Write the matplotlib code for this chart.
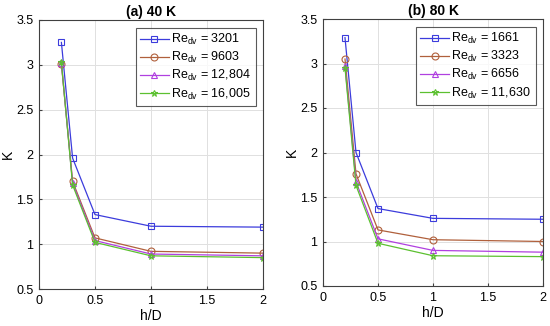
import matplotlib.pyplot as plt

# data
h_d = [0.2, 0.3, 0.5, 1.0, 2.0]

k40_labels = ['3201', '9603', '12,804', '16,005']
k40_vals = [
    [3.25, 1.96, 1.33, 1.20, 1.19],
    [3.01, 1.70, 1.07, 0.92, 0.90],
    [3.02, 1.68, 1.04, 0.89, 0.87],
    [3.03, 1.66, 1.02, 0.87, 0.85],
]

k80_labels = ['1661', '3323', '6656', '11,630']
k80_vals = [
    [3.29, 2.00, 1.37, 1.26, 1.25],
    [3.05, 1.76, 1.13, 1.02, 1.00],
    [2.97, 1.67, 1.03, 0.90, 0.88],
    [2.95, 1.63, 0.98, 0.84, 0.83],
]

colors = ['#3c3cdc', '#b0603c', '#b040e0', '#5cc030']
markers = ['s', 'o', '^', '*']

plt.rcParams['font.family'] = ['Liberation Sans', 'DejaVu Sans']

fig = plt.figure(figsize=(5.5, 3.26), dpi=100)
ax1 = fig.add_axes([39 / 550, 1 - 289 / 326, 224 / 550, 269 / 326])
ax2 = fig.add_axes([323 / 550, 1 - 286 / 326, 220 / 550, 267 / 326])


def draw(ax, vals, labels, title):
    for v, lab, c, m in zip(vals, labels, colors, markers):
        ms = 5 if m != '*' else 4.5
        ax.plot(h_d, v, color=c, marker=m, markersize=ms, markerfacecolor='none',
                markeredgecolor=c, linewidth=0.9, markeredgewidth=0.8,
                label='Re$_{\\mathregular{dv}}$ = ' + lab)
    ax.set_xlim(0, 2)
    ax.set_ylim(0.5, 3.5)
    ax.set_xticks([0, 0.5, 1, 1.5, 2])
    ax.set_xticklabels(['0', '0.5', '1', '1.5', '2'])
    ax.set_yticks([0.5, 1, 1.5, 2, 2.5, 3, 3.5])
    ax.set_yticklabels(['0.5', '1', '1.5', '2', '2.5', '3', '3.5'])
    ax.grid(True, color='#e0e0e0', linewidth=0.7)
    ax.set_axisbelow(True)
    ax.tick_params(labelsize=9, length=2, direction='in', color='#404040', pad=4)
    for s in ax.spines.values():
        s.set_color('#404040')
        s.set_linewidth(0.8)
    ax.set_xlabel('h/D', fontsize=10, labelpad=2)
    ax.set_ylabel('K', fontsize=10, labelpad=1)
    ax.set_title(title, fontsize=10, fontweight='bold', pad=3)
    leg = ax.legend(loc='upper right', fontsize=9, fancybox=False, edgecolor='#303030',
                    handlelength=2.3, borderpad=0.35, labelspacing=0.25, handletextpad=0.2,
                    borderaxespad=0.6)
    leg.get_frame().set_linewidth(0.8)


draw(ax1, k40_vals, k40_labels, '(a) 40 K')
draw(ax2, k80_vals, k80_labels, '(b) 80 K')

fig.savefig('out.png', dpi=100)
